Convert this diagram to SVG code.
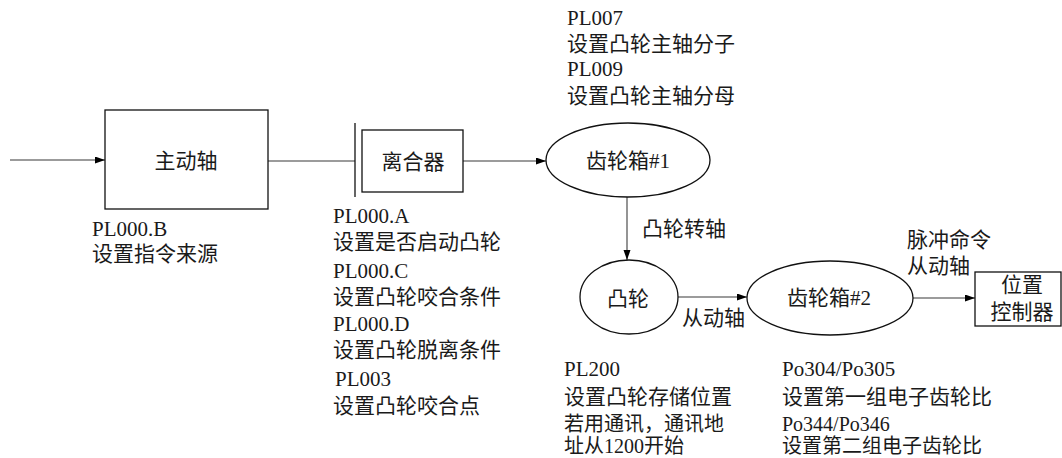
<svg xmlns="http://www.w3.org/2000/svg" width="1062" height="458" viewBox="0 0 1062 458">
<style>
text{font-family:"Liberation Serif","Noto Sans CJK SC",serif;font-size:21px;fill:#1a1a1a}
.c{text-anchor:middle}
.s{font-size:20px}
.shape{fill:#fff;stroke:#111;stroke-width:1.3}
.conn{stroke:#7a7a7a;stroke-width:1.6;fill:none}
</style>
<defs>
<marker id="arr" markerUnits="userSpaceOnUse" markerWidth="11" markerHeight="8" refX="10" refY="3.5" orient="auto">
<path d="M0,0 L10,3.5 L0,7 z" fill="#000"/>
</marker>
</defs>
<rect width="1062" height="458" fill="#fff"/>
<g id="connectors">
<path class="conn" d="M10,160 H105" marker-end="url(#arr)"/>
<path class="conn" d="M268,161 H355"/>
<path class="conn" d="M463,161 H546" marker-end="url(#arr)"/>
<path class="conn" d="M627,197 V260" marker-end="url(#arr)"/>
<path class="conn" d="M678,297 H747" marker-end="url(#arr)"/>
<path class="conn" d="M912,298 H975" marker-end="url(#arr)"/>
</g>
<g id="master">
<rect class="shape" x="105" y="110" width="163" height="99"/>
<text class="c" x="186" y="168">主动轴</text>
</g>
<g id="clutch">
<line x1="355" y1="123" x2="355" y2="197" stroke="#111" stroke-width="1.3"/>
<rect class="shape" x="362" y="130" width="101" height="62"/>
<text class="c" x="413" y="169">离合器</text>
</g>
<g id="gearbox1">
<ellipse class="shape" cx="628" cy="160" rx="82" ry="37"/>
<text class="c" x="628" y="168">齿轮箱#1</text>
</g>
<g id="cam">
<ellipse class="shape" cx="629" cy="297" rx="49" ry="37"/>
<text class="c" x="628" y="306">凸轮</text>
</g>
<g id="gearbox2">
<ellipse class="shape" cx="830" cy="298" rx="83" ry="37"/>
<text class="c" x="829" y="305">齿轮箱#2</text>
</g>
<g id="position-controller">
<rect class="shape" x="975" y="272" width="86" height="54"/>
<text class="c" x="1022" y="292">位置</text>
<text class="c" x="1022" y="319">控制器</text>
</g>
<g id="labels">
<text x="567" y="25">PL007</text>
<text x="567" y="51">设置凸轮主轴分子</text>
<text x="567" y="76">PL009</text>
<text x="567" y="103">设置凸轮主轴分母</text>
<text x="92" y="236">PL000.B</text>
<text x="92" y="261">设置指令来源</text>
<text x="333" y="223">PL000.A</text>
<text x="333" y="249">设置是否启动凸轮</text>
<text x="333" y="278">PL000.C</text>
<text x="333" y="304">设置凸轮咬合条件</text>
<text x="333" y="331">PL000.D</text>
<text x="333" y="357">设置凸轮脱离条件</text>
<text x="335" y="386">PL003</text>
<text x="333" y="413">设置凸轮咬合点</text>
<text x="642" y="236">凸轮转轴</text>
<text x="682" y="325">从动轴</text>
<text x="907" y="247">脉冲命令</text>
<text x="907" y="273">从动轴</text>
<text x="564" y="376">PL200</text>
<text x="564" y="404">设置凸轮存储位置</text>
<text class="s" x="564" y="431">若用通讯，通讯地</text>
<text class="s" x="564" y="453">址从1200开始</text>
<text x="782" y="376">Po304/Po305</text>
<text x="782" y="404">设置第一组电子齿轮比</text>
<text class="s" x="782" y="431">Po344/Po346</text>
<text class="s" x="782" y="453">设置第二组电子齿轮比</text>
</g>
</svg>
